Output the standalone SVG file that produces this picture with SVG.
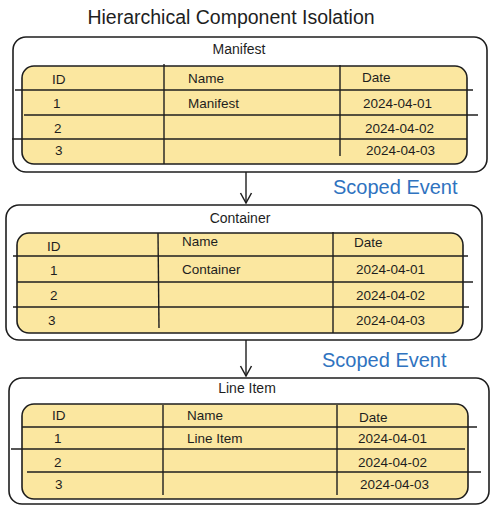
<svg xmlns="http://www.w3.org/2000/svg" width="495" height="513" viewBox="0 0 495 513">
<style>
.outer{fill:#ffffff;stroke:#1e1e1e;stroke-width:1.6}
.tbl{fill:#fbe7a0;stroke:#1e1e1e;stroke-width:1.6}
.ln{stroke:#1e1e1e;stroke-width:1.4;fill:none}
.t{font-family:"Liberation Sans","DejaVu Sans",sans-serif;font-size:13.5px;fill:#1e1e1e}
.lbl{font-family:"Liberation Sans","DejaVu Sans",sans-serif;font-size:14px;fill:#1e1e1e;text-anchor:middle}
.title{font-family:"Liberation Sans","DejaVu Sans",sans-serif;font-size:19.5px;fill:#1e1e1e;text-anchor:middle}
.ev{font-family:"Liberation Sans","DejaVu Sans",sans-serif;font-size:20px;fill:#2f73c0}
</style>
<defs>
<marker id="arr" markerWidth="14" markerHeight="14" refX="12" refY="7" orient="auto" markerUnits="userSpaceOnUse" viewBox="0 0 14 14">
<polyline points="2,1.5 12,7 2,12.5" fill="none" stroke="#1e1e1e" stroke-width="1.5"/>
</marker>
</defs>
<rect width="495" height="513" fill="#ffffff"/>
<text class="title" x="231" y="24">Hierarchical Component Isolation</text>

<g id="connectors">
<line class="ln" x1="246" y1="172" x2="246" y2="203" marker-end="url(#arr)"/>
<line class="ln" x1="246" y1="340" x2="246" y2="376" marker-end="url(#arr)"/>
<text class="ev" x="333" y="194">Scoped Event</text>
<text class="ev" x="322" y="367">Scoped Event</text>
</g>

<g id="manifest">
<rect class="outer" x="13" y="37" width="474" height="135" rx="13"/>
<text class="lbl" x="239" y="54">Manifest</text>
<rect class="tbl" x="22" y="66" width="445" height="98" rx="12"/>
<line class="ln" x1="15" y1="90" x2="473" y2="90"/>
<line class="ln" x1="24" y1="115" x2="478" y2="115"/>
<line class="ln" x1="12" y1="139" x2="467" y2="139"/>
<line class="ln" x1="164" y1="64" x2="164" y2="164"/>
<line class="ln" x1="340" y1="65" x2="340" y2="156"/>
<text class="t" x="52" y="84">ID</text>
<text class="t" x="188" y="83">Name</text>
<text class="t" x="362" y="82">Date</text>
<text class="t" x="53" y="108">1</text>
<text class="t" x="188" y="108">Manifest</text>
<text class="t" x="363" y="108">2024-04-01</text>
<text class="t" x="54" y="133">2</text>
<text class="t" x="365" y="133">2024-04-02</text>
<text class="t" x="55" y="155">3</text>
<text class="t" x="366" y="155">2024-04-03</text>
</g>

<g id="container">
<rect class="outer" x="6" y="205" width="476" height="135" rx="13"/>
<text class="lbl" x="240" y="223">Container</text>
<rect class="tbl" x="17" y="233" width="446" height="100" rx="12"/>
<line class="ln" x1="13" y1="256" x2="468" y2="256"/>
<line class="ln" x1="17" y1="282" x2="473" y2="282"/>
<line class="ln" x1="13" y1="307" x2="469" y2="307"/>
<line class="ln" x1="158" y1="233" x2="159" y2="328"/>
<line class="ln" x1="333" y1="232" x2="333" y2="333"/>
<text class="t" x="47" y="251">ID</text>
<text class="t" x="182" y="246">Name</text>
<text class="t" x="354" y="247">Date</text>
<text class="t" x="50" y="275">1</text>
<text class="t" x="182" y="274">Container</text>
<text class="t" x="356" y="274">2024-04-01</text>
<text class="t" x="50" y="300">2</text>
<text class="t" x="356" y="300">2024-04-02</text>
<text class="t" x="48" y="325">3</text>
<text class="t" x="356" y="325">2024-04-03</text>
</g>

<g id="line-item">
<rect class="outer" x="9" y="378" width="480" height="126" rx="13"/>
<text class="lbl" x="247" y="393">Line Item</text>
<rect class="tbl" x="22" y="404" width="446" height="95" rx="12"/>
<line class="ln" x1="22" y1="427" x2="477" y2="427"/>
<line class="ln" x1="11" y1="449" x2="465" y2="449"/>
<line class="ln" x1="27" y1="472" x2="481" y2="472"/>
<line class="ln" x1="163" y1="405" x2="163" y2="495"/>
<line class="ln" x1="337" y1="405" x2="337" y2="495"/>
<text class="t" x="52" y="420">ID</text>
<text class="t" x="187" y="420">Name</text>
<text class="t" x="359" y="422">Date</text>
<text class="t" x="54" y="443">1</text>
<text class="t" x="187" y="443">Line Item</text>
<text class="t" x="358" y="443">2024-04-01</text>
<text class="t" x="54" y="467">2</text>
<text class="t" x="358" y="467">2024-04-02</text>
<text class="t" x="55" y="489">3</text>
<text class="t" x="360" y="489">2024-04-03</text>
</g>
</svg>
